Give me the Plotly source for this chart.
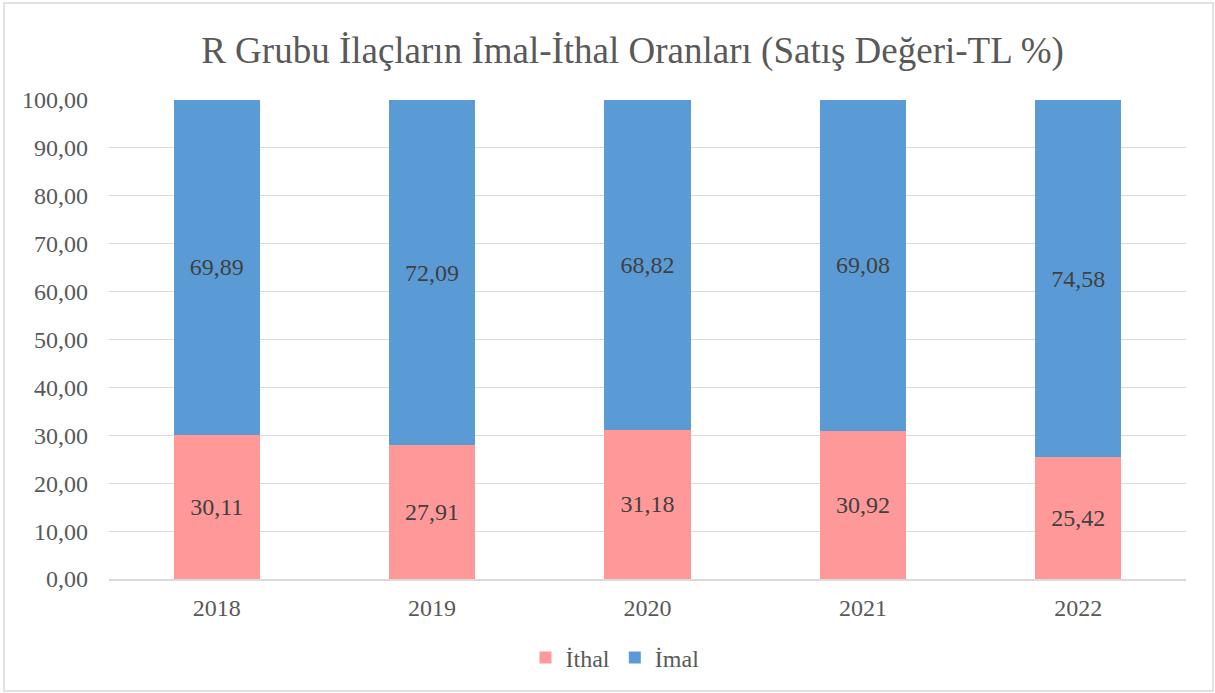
import plotly.graph_objects as go

years = ["2018", "2019", "2020", "2021", "2022"]
ithal = [30.11, 27.91, 31.18, 30.92, 25.42]
imal = [69.89, 72.09, 68.82, 69.08, 74.58]
y_ticks = [0, 10, 20, 30, 40, 50, 60, 70, 80, 90, 100]

def fmt(v):
    return f"{v:.2f}".replace(".", ",")

FONT = "Liberation Serif, Times New Roman, serif"
TXT = "#595959"

fig = go.Figure()
fig.add_trace(go.Bar(
    name="İthal", x=years, y=ithal,
    marker=dict(color="#FF9999", line=dict(width=0)),
    text=[fmt(v) for v in ithal], textposition="inside", insidetextanchor="middle",
    textfont=dict(family=FONT, size=24, color="#404040"),
))
fig.add_trace(go.Bar(
    name="İmal", x=years, y=imal,
    marker=dict(color="#5B9BD5", line=dict(width=0)),
    text=[fmt(v) for v in imal], textposition="inside", insidetextanchor="middle",
    textfont=dict(family=FONT, size=24, color="#404040"),
))

L, R, T, B = 109, 29, 100, 114
W, H = 1215, 693
pw, ph = W - L - R, H - T - B

fig.update_layout(
    width=W, height=H,
    barmode="stack", bargap=0.6,
    margin=dict(l=L, r=R, t=T, b=B),
    paper_bgcolor="white", plot_bgcolor="white",
    font=dict(family=FONT, color=TXT, size=24),
    title=dict(text="R Grubu İlaçların İmal-İthal Oranları (Satış Değeri-TL %)",
               x=(197 + 1068) / 2 / W, xanchor="center", y=1 - 50 / H, yanchor="middle",
               font=dict(family=FONT, size=37, color=TXT)),
    xaxis=dict(type="category", showline=True, linecolor="#D9D9D9", linewidth=1.5,
               ticks="", tickfont=dict(size=24, color=TXT), showgrid=False,
               ticklabelstandoff=6),
    yaxis=dict(range=[0, 100], tickvals=y_ticks, ticktext=[fmt(v) for v in y_ticks],
               showgrid=True, gridcolor="#D9D9D9", gridwidth=1.3, zeroline=False,
               ticks="", ticklabelstandoff=20, tickfont=dict(size=24, color=TXT)),
    legend=dict(orientation="h", x=(546 + 684) / 2 / W * W / pw - L / pw, xanchor="center",
                y=(579 - 658) / ph, yanchor="middle", itemwidth=30,
                font=dict(size=24, color=TXT), traceorder="normal"),
    showlegend=True,
    uniformtext=dict(mode="show", minsize=10),
)

fig.add_shape(type="rect", xref="paper", yref="paper",
              x0=(4 - L) / pw, x1=(1213 - L) / pw,
              y0=(579 - 691) / ph, y1=(579 - 3) / ph,
              line=dict(color="#D9D9D9", width=1.5), fillcolor="rgba(0,0,0,0)", layer="below")

fig.write_html("out.html", config={"displayModeBar": False},
               post_script="document.body.style.margin='0';document.body.style.overflow='hidden';")
